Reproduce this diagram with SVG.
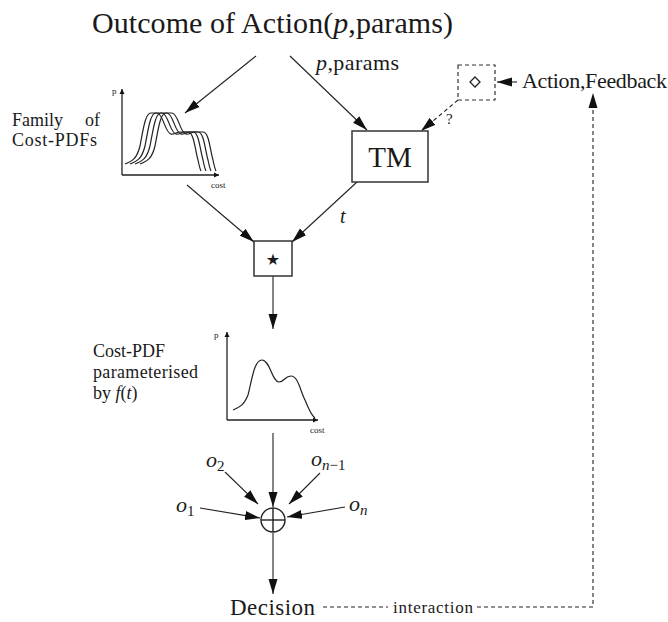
<svg xmlns="http://www.w3.org/2000/svg" width="668" height="622" viewBox="0 0 668 622">
<style>
text{font-family:"Liberation Serif","Times New Roman",serif;fill:#1a1a1a}
.it{font-style:italic}
.up{font-style:normal}
.ln{stroke:#222;stroke-width:1.1;fill:none}
.dash{stroke:#222;stroke-width:1.1;fill:none;stroke-dasharray:4,3}
.box{fill:#fff;stroke:#333;stroke-width:1.5}
.ax{stroke:#222;stroke-width:1.3;fill:none}
.cv{stroke:#222;stroke-width:1.2;fill:none}
.sm{font-size:9px}
</style>
<defs>
<marker id="ah" markerUnits="userSpaceOnUse" markerWidth="16" markerHeight="10" refX="15" refY="5" orient="auto">
<path d="M0,0.5 L15,5 L0,9.5 z" fill="#111"/>
</marker>
<marker id="sah" markerUnits="userSpaceOnUse" markerWidth="6" markerHeight="6" refX="5" refY="3" orient="auto">
<path d="M0,0.5 L5,3 L0,5.5 z" fill="#111"/>
</marker>
<path id="fc" d="M125,164 C133,161 137,158 140,146 C143,131 145,113 151,113 L157,113 C163,113 165,133 171,134 C174,135 176,132 180,132 L188,132 C194,132 195,150 198,160 C199,165 200,169 201,171"/>
</defs>
<rect width="668" height="622" fill="#fff"/>

<g id="connectors">
<line class="ln" x1="256" y1="56" x2="185" y2="113" marker-end="url(#ah)"/>
<line class="ln" x1="290" y1="56" x2="367" y2="130" marker-end="url(#ah)"/>
<line class="dash" x1="458" y1="100" x2="421" y2="131" marker-end="url(#ah)"/>
<line class="ln" x1="517" y1="82" x2="497" y2="82" marker-end="url(#ah)"/>
<line class="ln" x1="187" y1="185" x2="254" y2="242" marker-end="url(#ah)"/>
<line class="ln" x1="357" y1="182" x2="292" y2="242" marker-end="url(#ah)"/>
<line class="ln" x1="273" y1="276" x2="273" y2="329" marker-end="url(#ah)"/>
<line class="ln" x1="273" y1="433" x2="273" y2="507" marker-end="url(#ah)"/>
<line class="ln" x1="225" y1="472" x2="258" y2="504" marker-end="url(#ah)"/>
<line class="ln" x1="320" y1="473" x2="289" y2="504" marker-end="url(#ah)"/>
<line class="ln" x1="200" y1="508" x2="260" y2="518" marker-end="url(#ah)"/>
<line class="ln" x1="345" y1="507" x2="287" y2="517" marker-end="url(#ah)"/>
<line class="ln" x1="273" y1="533" x2="273" y2="594" marker-end="url(#ah)"/>
<line class="dash" x1="323" y1="607" x2="388" y2="607"/>
<polyline class="dash" points="477,607 593,607 593,93" marker-end="url(#ah)"/>
<text x="316" y="70" font-size="22" textLength="83"><tspan class="it">p</tspan>,params</text>
<text x="446" y="124" font-size="15">?</text>
<text x="340" y="223" font-size="20" class="it">t</text>
<text x="393" y="613" font-size="17" textLength="80">interaction</text>
</g>

<g id="title">
<text x="92" y="33" font-size="30" textLength="361">Outcome of Action(<tspan class="it">p</tspan>,params)</text>
</g>

<g id="family">
<text x="12" y="126" font-size="18" textLength="51">Family</text>
<text x="85" y="126" font-size="18">of</text>
<text x="12" y="146" font-size="18" textLength="85">Cost-PDFs</text>
<line class="ax" x1="122" y1="175" x2="122" y2="89" marker-end="url(#sah)"/>
<line class="ax" x1="122" y1="175" x2="219" y2="175" marker-end="url(#sah)"/>
<text x="112" y="94" class="sm">p</text>
<text x="211" y="188" class="sm">cost</text>
<use href="#fc" class="cv"/>
<use href="#fc" class="cv" transform="translate(5,0)"/>
<use href="#fc" class="cv" transform="translate(10,0)"/>
<use href="#fc" class="cv" transform="translate(15,0)"/>
</g>

<g id="tm">
<rect class="box" x="352" y="131" width="76" height="51"/>
<text x="390" y="167" font-size="29" text-anchor="middle">TM</text>
</g>

<g id="diamondbox">
<rect x="458" y="65" width="37" height="35" fill="#fff" stroke="#333" stroke-width="1.2" stroke-dasharray="4,3"/>
<polygon points="475,77 480,82 475,87 470,82" fill="none" stroke="#222" stroke-width="1.3"/>
</g>

<g id="actionfeedback">
<text x="522" y="88" font-size="22" textLength="145">Action,Feedback</text>
</g>

<g id="starbox">
<rect class="box" x="254" y="241" width="38" height="35"/>
<text x="273" y="265" font-size="16" text-anchor="middle" style="font-family:'DejaVu Sans',sans-serif">★</text>
</g>

<g id="costpdf">
<text x="93" y="357" font-size="18" textLength="72">Cost-PDF</text>
<text x="93" y="378" font-size="18" textLength="105">parameterised</text>
<text x="93" y="399" font-size="18">by <tspan class="it">f</tspan>(<tspan class="it">t</tspan>)</text>
<line class="ax" x1="227" y1="420" x2="227" y2="332" marker-end="url(#sah)"/>
<line class="ax" x1="227" y1="420" x2="318" y2="420" marker-end="url(#sah)"/>
<text x="214" y="338" class="sm">p</text>
<text x="310" y="433" class="sm">cost</text>
<path class="cv" d="M233,410 C240,407 244,405 248,395 C252,380 254,360 262,360 C270,360 272,382 279,382 C284,382 285,376 291,376 C298,376 300,390 305,400 C309,410 312,416 315,418"/>
</g>

<g id="oplus">
<circle cx="273" cy="520" r="12" fill="#fff" stroke="#222" stroke-width="1.4"/>
<line x1="261" y1="520" x2="285" y2="520" stroke="#222" stroke-width="1.4"/>
<line x1="273" y1="508" x2="273" y2="532" stroke="#222" stroke-width="1.4"/>
</g>

<g id="o1"><text x="176" y="512" font-size="22"><tspan class="it">o</tspan><tspan class="up" font-size="15" dy="4">1</tspan></text></g>
<g id="o2"><text x="206" y="467" font-size="22"><tspan class="it">o</tspan><tspan class="up" font-size="15" dy="4">2</tspan></text></g>
<g id="on1"><text x="311" y="466" font-size="22"><tspan class="it">o</tspan><tspan class="it" font-size="15" dy="4">n</tspan><tspan class="up" font-size="15">−1</tspan></text></g>
<g id="on"><text x="349" y="511" font-size="22"><tspan class="it">o</tspan><tspan class="it" font-size="15" dy="4">n</tspan></text></g>

<g id="decision">
<text x="230" y="615" font-size="23" textLength="85">Decision</text>
</g>
</svg>
